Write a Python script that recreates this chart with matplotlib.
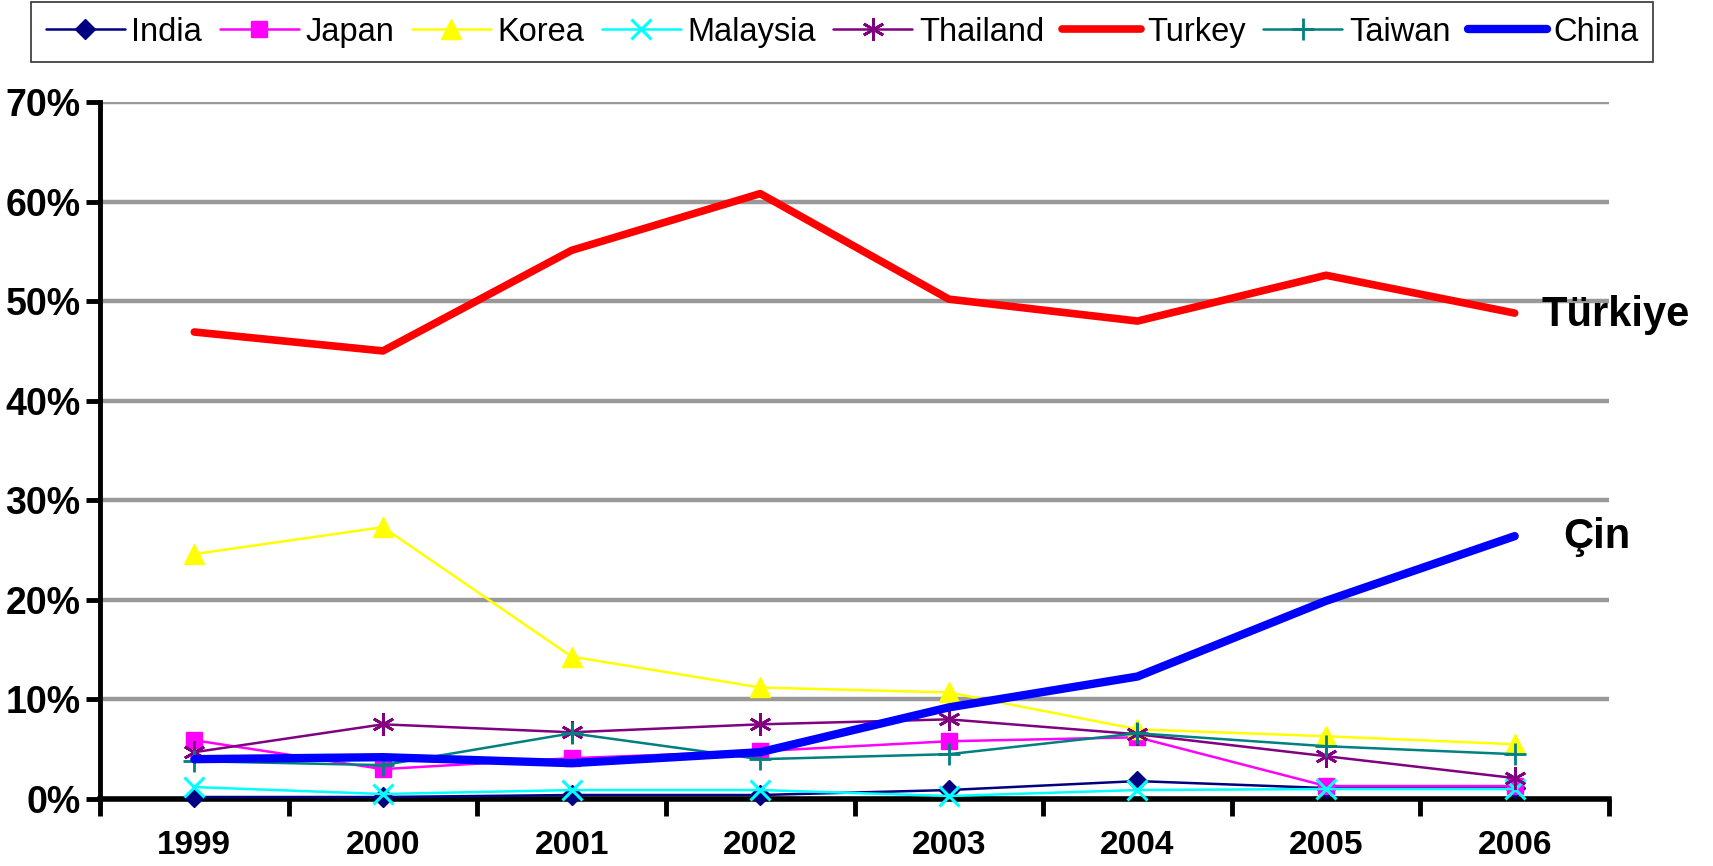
import matplotlib
matplotlib.use("Agg")
import matplotlib.pyplot as plt
from matplotlib.ticker import FixedLocator, FuncFormatter
import numpy as np

years = ["1999", "2000", "2001", "2002", "2003", "2004", "2005", "2006"]
india = [0.2, 0.2, 0.4, 0.4, 0.9, 1.8, 1.1, 1.1]
japan = [5.9, 3.0, 4.1, 4.8, 5.8, 6.2, 1.3, 1.3]
korea = [24.6, 27.3, 14.3, 11.2, 10.7, 7.0, 6.3, 5.5]
malaysia = [1.2, 0.5, 0.9, 0.9, 0.3, 0.9, 1.0, 1.0]
thailand = [4.7, 7.5, 6.7, 7.5, 8.0, 6.5, 4.3, 2.1]
turkey = [46.9, 45.0, 55.1, 60.8, 50.2, 48.0, 52.6, 48.8]
taiwan = [3.8, 3.4, 6.6, 4.0, 4.5, 6.6, 5.3, 4.5]
china = [4.0, 4.2, 3.6, 4.7, 9.2, 12.3, 19.9, 26.4]
yticks = [0, 10, 20, 30, 40, 50, 60, 70]

plt.rcParams['font.family'] = ['Liberation Sans', 'DejaVu Sans']

W, H = 1713, 866
fig = plt.figure(figsize=(W / 100, H / 100), dpi=100)
ax = fig.add_axes([100 / W, (H - 799) / H, 1509 / W, 697 / H])

x = np.arange(len(years))
series = [
    ("India", india, dict(color="#000080", marker="D", ms=10, lw=1.8)),
    ("Japan", japan, dict(color="#FF00FF", marker="s", ms=11, lw=1.8)),
    ("Korea", korea, dict(color="#FFFF00", marker="^", ms=14, lw=1.8)),
    ("Malaysia", malaysia, dict(color="#00FFFF", marker="x", ms=14, mew=2.2, lw=1.8)),
    ("Thailand", thailand, dict(color="#800080", marker=(6, 2, 0), ms=16, mew=2, lw=1.8)),
    ("Turkey", turkey, dict(color="#FF0000", lw=5.5)),
    ("Taiwan", taiwan, dict(color="#008080", marker="+", ms=16, mew=2, lw=1.8)),
    ("China", china, dict(color="#0000FF", lw=6)),
]
handles = []
for name, vals, kw in series:
    h, = ax.plot(x, vals, label=name, solid_capstyle="round", clip_on=False, zorder=3, **kw)
    handles.append(h)

ax.set_xlim(-0.5, len(years) - 0.5)
ax.set_ylim(0, 70)

ax.yaxis.set_major_locator(FixedLocator(yticks))
ax.yaxis.set_major_formatter(FuncFormatter(lambda v, p: f"{int(v)}%"))
ax.grid(axis="y", color="#999999", lw=3.2, zorder=0)
ax.set_axisbelow(True)

ax.set_xticks(x)
ax.set_xticklabels(years)
ax.set_xticks(np.arange(-0.5, len(years)), minor=True)
ax.tick_params(axis="x", which="major", length=0, pad=22)
ax.tick_params(axis="x", which="minor", length=12, width=3.5, direction="out")
ax.tick_params(axis="y", length=10, width=3.5, direction="out", pad=4)
for lab in ax.get_xticklabels():
    lab.set_fontweight("bold")
    lab.set_fontsize(24)
for lab in ax.get_yticklabels():
    lab.set_fontweight("bold")
    lab.set_fontsize(27)

for s in ["top", "right"]:
    ax.spines[s].set_visible(False)
ax.spines["left"].set_linewidth(3.5)
ax.spines["bottom"].set_linewidth(4)

ax.text(1542 / W, 1 - 315 / H, "Türkiye", transform=fig.transFigure, fontsize=30,
        fontweight="bold", va="center", ha="left")
ax.text(1563 / W, 1 - 537 / H, "Çin", transform=fig.transFigure, fontsize=30,
        fontweight="bold", va="center", ha="left")

leg = fig.legend(handles=handles, loc="upper left", ncol=8,
                 bbox_to_anchor=(31 / W, 1 - 2 / H),
                 prop={'size': 23.5}, frameon=True, fancybox=False,
                 edgecolor="black", handlelength=2.42, handletextpad=0.2,
                 columnspacing=0.54, borderaxespad=0, borderpad=0.45)
leg.get_frame().set_linewidth(1.2)

fig.savefig("out.png", dpi=100)
